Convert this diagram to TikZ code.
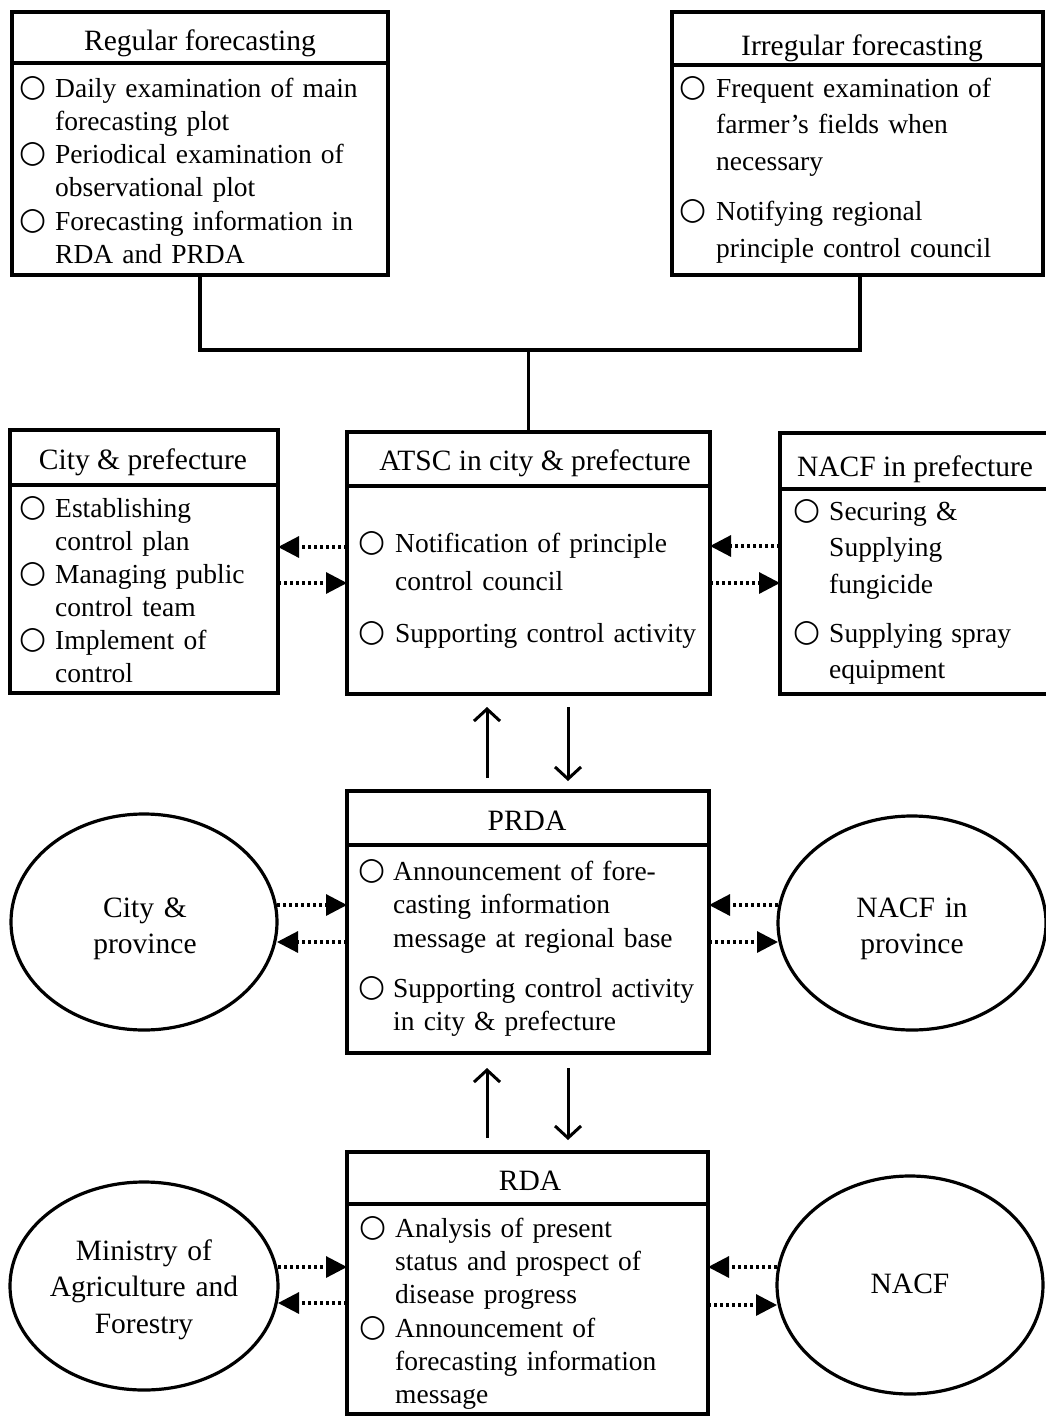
\documentclass[tikz,border=0pt]{standalone}
\usepackage{fontspec}
\setmainfont{Liberation Serif}
\newfontfamily\bulfont{DejaVu Sans}
\usetikzlibrary{shapes.geometric,arrows.meta}
\newcommand\itm[6]{%
  \node[bul] (#1b) at (#2,#4-9) {○};
  \node[itx, font=\fontsize{27.5}{#5}\selectfont] (#1t) at (#3,#4) {#6};}
\begin{document}
\begin{tikzpicture}[x=1pt,y=-1pt,
  box/.style={draw, line width=3.2pt, rectangle, inner sep=0pt, outer sep=0pt, anchor=north west},
  oval/.style={draw, line width=3.2pt, ellipse, inner sep=0pt, outer sep=0pt},
  otxt/.style={anchor=base, inner sep=0pt, text width=260pt, align=center, font=\fontsize{29.5}{36.5}\selectfont},
  head/.style={anchor=base, inner sep=0pt, font=\fontsize{29.5}{36}\selectfont},
  bul/.style={inner sep=0pt, font=\bulfont\fontsize{31}{31}\selectfont},
  itx/.style={anchor=base west, inner sep=0pt, text width=330pt, align=left},
  conn/.style={line width=3.2pt},
  dotarr/.style={line width=3.2pt, dash pattern=on 3pt off 3pt, -{Triangle[length=21pt,width=21pt]}},
  solarr/.style={line width=3pt, -{Straight Barb[length=12pt,width=26pt]}}]
\useasboundingbox (0,0) rectangle (1046,1416);

% coordinates for levels
\coordinate (ytop) at (0,350);
\coordinate (xa) at (200,0);
\coordinate (xb) at (860,0);
\coordinate (xu) at (487,0);
\coordinate (xd) at (568,0);
\coordinate (dreg) at (0,63);
\coordinate (dirr) at (0,65);
\coordinate (dcp) at (0,485);
\coordinate (datsc) at (0,486);
\coordinate (dnacfp) at (0,489);
\coordinate (dprda) at (0,845);
\coordinate (drda) at (0,1204);
\coordinate (y546) at (0,546);
\coordinate (y547) at (0,547);
\coordinate (y583) at (0,583);
\coordinate (y905) at (0,905);
\coordinate (y942) at (0,942);
\coordinate (y1267) at (0,1267);
\coordinate (y1303) at (0,1303);
\coordinate (y1305) at (0,1305);

% boxes
\node[box, minimum width=376, minimum height=263] (reg) at (12,12) {};
\node[box, minimum width=371, minimum height=263] (irr) at (672,12) {};
\node[box, minimum width=268, minimum height=263] (cp) at (10,430) {};
\node[box, minimum width=363, minimum height=262] (atsc) at (347,432) {};
\node[box, minimum width=272, minimum height=261] (nacfp) at (780,433) {};
\node[box, minimum width=362, minimum height=262] (prda) at (347,791) {};
\node[box, minimum width=361, minimum height=262] (rda) at (347,1152) {};

% dividers
\draw[conn] (reg.west |- dreg) -- (reg.east |- dreg);
\draw[conn] (irr.west |- dirr) -- (irr.east |- dirr);
\draw[conn] (cp.west |- dcp) -- (cp.east |- dcp);
\draw[conn] (atsc.west |- datsc) -- (atsc.east |- datsc);
\draw[conn] (nacfp.west |- dnacfp) -- (nacfp.east |- dnacfp);
\draw[conn] (prda.west |- dprda) -- (prda.east |- dprda);
\draw[conn] (rda.west |- drda) -- (rda.east |- drda);

% ellipses
\node[oval, minimum width=266, minimum height=216] (cprov) at (144,922) {};
\node[oval, minimum width=268, minimum height=214] (nprov) at (912,923) {};
\node[oval, minimum width=268, minimum height=208] (mini) at (144,1286) {};
\node[oval, minimum width=266, minimum height=218] (nacf) at (910,1285) {};
\node[otxt] (cprovt) at (145,917) {City \&\\province};
\node[otxt] (nprovt) at (912,917) {NACF in\\province};
\node[otxt] (minit) at (144,1260) {Ministry of\\Agriculture and\\Forestry};
\node[otxt] (nacft) at (910,1293) {NACF};

% headers
\node[head] (regh) at (200,50) {Regular forecasting};
\node[head] (irrh) at (862,55) {Irregular forecasting};
\node[head] (cph) at (143,469) {City \& prefecture};
\node[head] (atsch) at (535,470) {ATSC in city \& prefecture};
\node[head] (nacfph) at (915,476) {NACF in prefecture};
\node[head] (prdah) at (527,830) {PRDA};
\node[head] (rdah) at (530,1190) {RDA};

% items
\itm{r1}{33}{55}{97}{33.3}{Daily examination of main\\forecasting plot}
\itm{r2}{33}{55}{163}{33.3}{Periodical examination of\\observational plot}
\itm{r3}{33}{55}{230}{33.3}{Forecasting information in\\RDA and PRDA}
\itm{i1}{693}{716}{97}{36.5}{Frequent examination of\\farmer’s fields when\\necessary}
\itm{i2}{693}{716}{220}{37}{Notifying regional\\principle control council}
\itm{c1}{33}{55}{517}{33}{Establishing\\control plan}
\itm{c2}{33}{55}{583}{33}{Managing public\\control team}
\itm{c3}{33}{55}{649}{33}{Implement of\\control}
\itm{a1}{372}{395}{552}{38}{Notification of principle\\control council}
\itm{a2}{372}{395}{642}{38}{Supporting control activity}
\itm{n1}{807}{829}{520}{36.5}{Securing \&\\Supplying\\fungicide}
\itm{n2}{807}{829}{642}{36}{Supplying spray\\equipment}
\itm{p1}{372}{393}{880}{33.5}{Announcement of fore-\\casting information\\message at regional base}
\itm{p2}{372}{393}{997}{33}{Supporting control activity\\in city \& prefecture}
\itm{d1}{373}{395}{1237}{33}{Analysis of present\\status and prospect of\\disease progress}
\itm{d2}{373}{395}{1337}{33}{Announcement of\\forecasting information\\message}

% top connector
\draw[conn] (reg.south -| xa) -- (xa |- ytop) -- (xb |- ytop) -- (irr.south -| xb);
\draw[conn] (atsc.north |- ytop) -- (atsc.north);

% dotted arrows
\draw[dotarr] (atsc.west |- y547) -- (cp.east |- y547);
\draw[dotarr] (cp.east |- y583) -- (atsc.west |- y583);
\draw[dotarr] (nacfp.west |- y546) -- (atsc.east |- y546);
\draw[dotarr] (atsc.east |- y583) -- (nacfp.west |- y583);
\draw[dotarr] (cprov.east |- y905) -- (prda.west |- y905);
\draw[dotarr] (prda.west |- y942) -- (cprov.east |- y942);
\draw[dotarr] (nprov.west |- y905) -- (prda.east |- y905);
\draw[dotarr] (prda.east |- y942) -- (nprov.west |- y942);
\draw[dotarr] (mini.east |- y1267) -- (rda.west |- y1267);
\draw[dotarr] (rda.west |- y1303) -- (mini.east |- y1303);
\draw[dotarr] (nacf.west |- y1267) -- (rda.east |- y1267);
\draw[dotarr] (rda.east |- y1305) -- (nacf.west |- y1305);

% solid arrows
\draw[solarr, shorten <=13pt, shorten >=13pt] (prda.north -| xu) -- (atsc.south -| xu);
\draw[solarr, shorten <=13pt, shorten >=10pt] (atsc.south -| xd) -- (prda.north -| xd);
\draw[solarr, shorten <=14pt, shorten >=15pt] (rda.north -| xu) -- (prda.south -| xu);
\draw[solarr, shorten <=15pt, shorten >=12pt] (prda.south -| xd) -- (rda.north -| xd);
\end{tikzpicture}
\end{document}
